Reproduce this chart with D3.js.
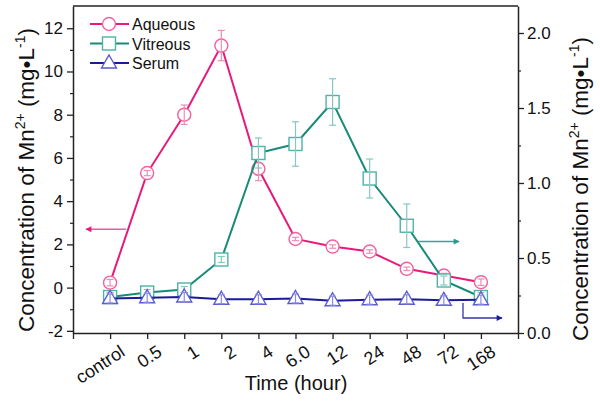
<!DOCTYPE html>
<html><head><meta charset="utf-8">
<script src="https://cdn.jsdelivr.net/npm/d3@7"></script>
<style>
html,body{margin:0;padding:0;background:#fff;}
svg{display:block;font-family:"Liberation Sans",Arial,sans-serif;}
</style></head>
<body><svg id="c" width="600" height="405"></svg>
<script>
const categories = ["control","0.5","1","2","4","6.0","12","24","48","72","168"];
const aqueous    = [0.23, 5.3, 8.0, 11.2, 5.5, 2.25, 1.9, 1.67, 0.87, 0.56, 0.25];
const aqueousErr = [0.15, 0.12, 0.45, 0.7, 0.55, 0.08, 0.08, 0.08, 0.08, 0.1, 0.15];
const vitreous    = [0.24, 0.27, 0.29, 0.49, 1.2, 1.26, 1.54, 1.03, 0.715, 0.35, 0.24];
const vitreousErr = [0.03, 0.02, 0.02, 0.02, 0.1, 0.148, 0.155, 0.13, 0.145, 0.03, 0.03];
const serum    = [0.23, 0.235, 0.24, 0.225, 0.225, 0.23, 0.215, 0.222, 0.225, 0.218, 0.222];
const serumErr = [0.03, 0.03, 0.03, 0.03, 0.03, 0.03, 0.03, 0.03, 0.03, 0.03, 0.03];
const leftTicks = [-2,0,2,4,6,8,10,12];
const rightTicks = [0,0.5,1.0,1.5,2.0];

const svg = d3.select("#c");
const L=73, R=518, T=6, B=333;
const x = d3.scaleLinear().domain([-1,11]).range([L,R]);
const yL = d3.scaleLinear().domain([-2.1,13.03]).range([B,T]);
const yR = d3.scaleLinear().domain([0,2.18]).range([B,T]);
const axisColor="#222";

svg.append("line").attr("x1",L).attr("x2",R).attr("y1",T).attr("y2",T).attr("stroke",axisColor).attr("stroke-width",1.5);

function styleAxis(g){
  g.select(".domain").attr("stroke",axisColor).attr("stroke-width",1.5);
  g.selectAll(".tick line").attr("stroke",axisColor).attr("stroke-width",1.3);
  g.selectAll("text").attr("font-size",17).attr("fill","#111").attr("font-family","Liberation Sans, Arial, sans-serif");
}
const gl = svg.append("g").attr("transform",`translate(${L},0)`)
  .call(d3.axisLeft(yL).tickValues(leftTicks).tickFormat(d=>String(d)).tickSizeInner(6).tickSizeOuter(0).tickPadding(4));
styleAxis(gl);
svg.append("g").attr("transform",`translate(${L},0)`)
  .call(d3.axisLeft(yL).tickValues(d3.range(-1,13,2)).tickFormat("").tickSizeInner(3).tickSizeOuter(0))
  .call(g=>{g.select(".domain").remove();g.selectAll("line").attr("stroke",axisColor).attr("stroke-width",1.2);});
const gr = svg.append("g").attr("transform",`translate(${R},0)`)
  .call(d3.axisRight(yR).tickValues(rightTicks).tickFormat(d3.format(".1f")).tickSizeInner(6).tickSizeOuter(0).tickPadding(3));
styleAxis(gr);
svg.append("g").attr("transform",`translate(${R},0)`)
  .call(d3.axisRight(yR).tickValues([0.25,0.75,1.25,1.75]).tickFormat("").tickSizeInner(3).tickSizeOuter(0))
  .call(g=>{g.select(".domain").remove();g.selectAll("line").attr("stroke",axisColor).attr("stroke-width",1.2);});
const gb = svg.append("g").attr("transform",`translate(0,${B})`)
  .call(d3.axisBottom(x).tickValues(d3.range(-1,12)).tickFormat("").tickSizeInner(6).tickSizeOuter(0));
styleAxis(gb);
svg.append("g").selectAll("text").data(categories).join("text")
  .attr("transform",(d,i)=>`translate(${x(i)+9},${B+11}) rotate(-33)`)
  .attr("text-anchor","end").attr("dy","0.72em")
  .attr("font-size",18).attr("fill","#111").text(d=>d);

function yTitle(tx,ty){
  const t = svg.append("text").attr("transform",`translate(${tx},${ty}) rotate(-90)`)
    .attr("text-anchor","middle").attr("font-size",22.5).attr("fill","#111");
  t.append("tspan").text("Concentration of Mn");
  t.append("tspan").attr("font-size",14).attr("dy",-9).text("2+");
  t.append("tspan").attr("dy",9).text(" (mg\u2022L");
  t.append("tspan").attr("font-size",14).attr("dy",-9).text("-1");
  t.append("tspan").attr("dy",9).text(")");
}
yTitle(34,180);
yTitle(588,189);
svg.append("text").attr("x",296).attr("y",390).attr("text-anchor","middle")
  .attr("font-size",20).attr("fill","#111").text("Time (hour)");

const series = [
  {name:"Aqueous", vals:aqueous, err:aqueousErr, y:yL, line:"#e8197b", mk:"#f0639f", eb:"#f08cb8", shape:"circle"},
  {name:"Vitreous", vals:vitreous, err:vitreousErr, y:yR, line:"#188a78", mk:"#4fb3a6", eb:"#86c8bf", shape:"square"},
  {name:"Serum", vals:serum, err:serumErr, y:yR, line:"#1b1b98", mk:"#5a5ad2", eb:"#8b8be0", shape:"triangle"}
];
function drawMarker(g, shape, cx, cy, color){
  if(shape==="circle") g.append("circle").attr("cx",cx).attr("cy",cy).attr("r",6.5).attr("fill","#fff").attr("stroke",color).attr("stroke-width",1.4);
  else if(shape==="square") g.append("rect").attr("x",cx-6.5).attr("y",cy-6.5).attr("width",13).attr("height",13).attr("fill","#fff").attr("stroke",color).attr("stroke-width",1.4);
  else g.append("path").attr("d",`M${cx},${cy-8}L${cx+7.5},${cy+5}L${cx-7.5},${cy+5}Z`).attr("fill","#fff").attr("stroke",color).attr("stroke-width",1.4);
}
series.forEach(s=>{
  const g = svg.append("g");
  const line = d3.line().x((d,i)=>x(i)).y(d=>s.y(d));
  g.append("path").attr("d",line(s.vals)).attr("fill","none").attr("stroke",s.line).attr("stroke-width",2);
  s.vals.forEach((v,i)=>drawMarker(g,s.shape,x(i),s.y(v),s.mk));
  s.vals.forEach((v,i)=>{
    const x0=x(i), y1=s.y(v+s.err[i]), y2=s.y(v-s.err[i]);
    g.append("line").attr("x1",x0).attr("x2",x0).attr("y1",y1).attr("y2",y2).attr("stroke",s.eb).attr("stroke-width",1.2);
    [y1,y2].forEach(yy=>g.append("line").attr("x1",x0-3.5).attr("x2",x0+3.5).attr("y1",yy).attr("y2",yy).attr("stroke",s.eb).attr("stroke-width",1.2));
  });
});

series.forEach((s,i)=>{
  const ly = 24 + i*19.5;
  svg.append("line").attr("x1",90).attr("x2",129).attr("y1",ly).attr("y2",ly).attr("stroke",s.line).attr("stroke-width",2);
  drawMarker(svg,s.shape,109,ly,s.mk);
  svg.append("text").attr("x",132).attr("y",ly+6).attr("font-size",16).attr("fill","#111").text(s.name);
});

const defs = svg.append("defs");
[["ap","#e8197b"],["av","#2a9a8a"],["as","#1b1b98"]].forEach(([id,c])=>{
  defs.append("marker").attr("id",id).attr("viewBox","0 0 10 10").attr("refX",9).attr("refY",5)
    .attr("markerWidth",9).attr("markerHeight",6).attr("markerUnits","userSpaceOnUse").attr("orient","auto")
    .append("path").attr("d","M0,0L10,5L0,10Z").attr("fill",c);
});
const ay = yL(2.7);
svg.append("line").attr("x1",126).attr("x2",86).attr("y1",ay).attr("y2",ay).attr("stroke","#ef5a9a").attr("stroke-width",1.3).attr("marker-end","url(#ap)");
const av = yR(0.61);
svg.append("line").attr("x1",418).attr("x2",459).attr("y1",av).attr("y2",av).attr("stroke","#3aa596").attr("stroke-width",1.3).attr("marker-end","url(#av)");
svg.append("path").attr("d",`M463,${yR(0.2)}V${yR(0.1)}H502`).attr("fill","none").attr("stroke","#3535b0").attr("stroke-width",1.3).attr("marker-end","url(#as)");
</script></body></html>
